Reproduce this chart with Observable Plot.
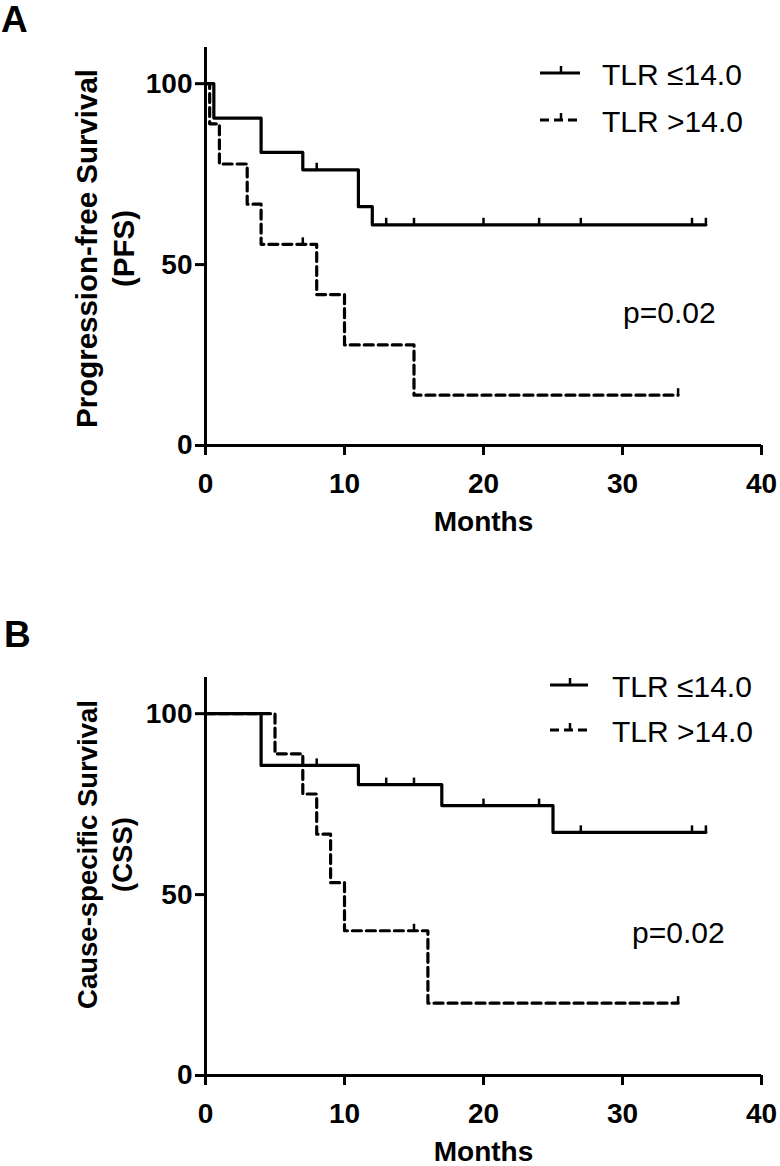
<!DOCTYPE html>
<html><head><meta charset="utf-8">
<script src="https://cdn.jsdelivr.net/npm/d3@7"></script>
<script src="https://cdn.jsdelivr.net/npm/@observablehq/plot@0.6"></script>
<style>
html,body{margin:0;padding:0;background:#fff;}
#root{width:780px;position:relative;font-family:"Liberation Sans",Arial,Helvetica,sans-serif;}
.panel{position:relative;width:780px;}
.panel svg{display:block;}
.overlay{position:absolute;left:0;top:0;pointer-events:none;}
</style></head><body><div id="root"></div>
<script>
// ---------- data ----------
const xTicks = [0, 10, 20, 30, 40];
const yTicks = [0, 50, 100];
const groupLabels = ["TLR \u226414.0", "TLR >14.0"];
const pValueText = "p=0.02";

// Panel A: progression-free survival
const pfsLowMonths   = [0, 0.6, 4, 7, 11, 12, 36];
const pfsLowSurv     = [100, 90.5, 81.0, 76.2, 66.0, 61.0, 61.0];
const pfsLowCensor   = [8, 13, 15, 20, 24, 27, 35, 36];
const pfsHighMonths  = [0, 0.3, 1, 3, 4, 8, 10, 15, 34];
const pfsHighSurv    = [100, 88.9, 77.8, 66.7, 55.6, 41.7, 27.8, 13.9, 13.9];
const pfsHighCensor  = [7, 34];

// Panel B: cause-specific survival
const cssLowMonths   = [0, 4, 11, 17, 25, 36];
const cssLowSurv     = [100, 85.7, 80.4, 74.6, 67.2, 67.2];
const cssLowCensor   = [8, 13, 15, 20, 24, 27, 35, 36];
const cssHighMonths  = [0, 5, 7, 8, 9, 10, 16, 34];
const cssHighSurv    = [100, 88.9, 77.8, 66.7, 53.3, 40.0, 20.0, 20.0];
const cssHighCensor  = [15, 34];

// ---------- helpers ----------
const FONT = '"Liberation Sans", Arial, Helvetica, sans-serif';
function rows(T, S) { return T.map((t, i) => ({t, s: S[i]})); }
function survAt(T, S, t) { let v = S[0]; for (let i = 0; i < T.length; i++) if (T[i] <= t) v = S[i]; return v; }
function censorRows(T, S, C) { return C.map(t => ({t, s: survAt(T, S, t)})); }
const censorSymbol = { draw(ctx) { ctx.moveTo(0, 0); ctx.lineTo(0, -7); } };

function makePanel(cfg) {
  const panel = document.createElement("div");
  panel.className = "panel";
  const lowRows = rows(cfg.lowT, cfg.lowS);
  const highRows = rows(cfg.highT, cfg.highS);
  const cens = censorRows(cfg.lowT, cfg.lowS, cfg.lowC).concat(censorRows(cfg.highT, cfg.highS, cfg.highC));
  const chart = Plot.plot({
    width: 780, height: cfg.height,
    marginTop: cfg.marginTop, marginBottom: cfg.marginBottom, marginLeft: 205, marginRight: 19,
    x: {domain: [0, 40]},
    y: {domain: [0, 110]},
    style: {fontFamily: FONT, fontSize: "28px", color: "#000", background: "#fff", overflow: "visible"},
    marks: [
      Plot.line(lowRows, {x: "t", y: "s", curve: "step-after", stroke: "#000", strokeWidth: 3.2}),
      Plot.line(highRows, {x: "t", y: "s", curve: "step-after", stroke: "#000", strokeWidth: 3.2, strokeDasharray: "9,5"}),
      Plot.dot(cens, {x: "t", y: "s", symbol: censorSymbol, r: 4, stroke: "#000", fill: "none", strokeWidth: 2.5}),
      Plot.axisX({ticks: xTicks, tickSize: 10, tickPadding: 18, strokeWidth: 3, fontWeight: "bold", fontSize: 28, label: null}),
      Plot.axisY({ticks: yTicks, tickSize: 10, tickPadding: 3, strokeWidth: 3, fontWeight: "bold", fontSize: 28, label: null}),
      Plot.ruleX([0], {strokeWidth: 3}),
      Plot.ruleY([0], {strokeWidth: 3}),
      Plot.text([cfg.yLabel], {text: d => d, frameAnchor: "left", textAnchor: "middle", lineAnchor: "middle",
        rotate: -90, dx: -102, dy: cfg.yLabelDy, fontWeight: "bold", fontSize: cfg.yLabelSize, lineHeight: 1.28}),
      Plot.text(["Months"], {text: d => d, frameAnchor: "bottom", textAnchor: "middle", lineAnchor: "middle",
        dy: 77, fontWeight: "bold", fontSize: 28})
    ]
  });
  panel.appendChild(chart);

  // overlay: panel letter, legend, p value
  const L = cfg.legend;
  const ov = d3.select(panel).append("svg")
    .attr("class", "overlay").attr("width", 780).attr("height", cfg.height)
    .style("font-family", FONT);
  ov.append("text").attr("x", cfg.letterX).attr("y", cfg.letterY)
    .attr("font-size", 37).attr("font-weight", "bold").text(cfg.letter);
  const dashes = [null, "9,5"];
  groupLabels.forEach((g, i) => {
    const y = L.y0 + i * L.dy;
    ov.append("line").attr("x1", L.x0).attr("x2", L.x1).attr("y1", y).attr("y2", y)
      .attr("stroke", "#000").attr("stroke-width", 3).attr("stroke-dasharray", dashes[i]);
    const mx = (L.x0 + L.x1) / 2 + 1;
    ov.append("line").attr("x1", mx).attr("x2", mx).attr("y1", y).attr("y2", y - 7)
      .attr("stroke", "#000").attr("stroke-width", 2.5);
    ov.append("text").attr("x", L.tx).attr("y", y + 12).attr("font-size", 30).text(g);
  });
  ov.append("text").attr("x", cfg.pX).attr("y", cfg.pY).attr("font-size", 30).text(pValueText);
  return panel;
}

const root = document.getElementById("root");
root.appendChild(makePanel({
  letter: "A", letterX: 1, letterY: 32,
  height: 545, marginTop: 47, marginBottom: 100,
  lowT: pfsLowMonths, lowS: pfsLowSurv, lowC: pfsLowCensor,
  highT: pfsHighMonths, highS: pfsHighSurv, highC: pfsHighCensor,
  yLabel: "Progression-free Survival\n(PFS)", yLabelDy: 2, yLabelSize: 29.5,
  legend: {x0: 540, x1: 580, tx: 602, y0: 73, dy: 47},
  pX: 623, pY: 323
}));
root.appendChild(makePanel({
  letter: "B", letterX: 4, letterY: 102,
  height: 621, marginTop: 132, marginBottom: 91,
  lowT: cssLowMonths, lowS: cssLowSurv, lowC: cssLowCensor,
  highT: cssHighMonths, highS: cssHighSurv, highC: cssHighCensor,
  yLabel: "Cause-specific Survival\n(CSS)", yLabelDy: -22, yLabelSize: 27.5,
  legend: {x0: 550, x1: 588, tx: 612, y0: 140, dy: 45},
  pX: 632, pY: 398
}));
</script></body></html>
